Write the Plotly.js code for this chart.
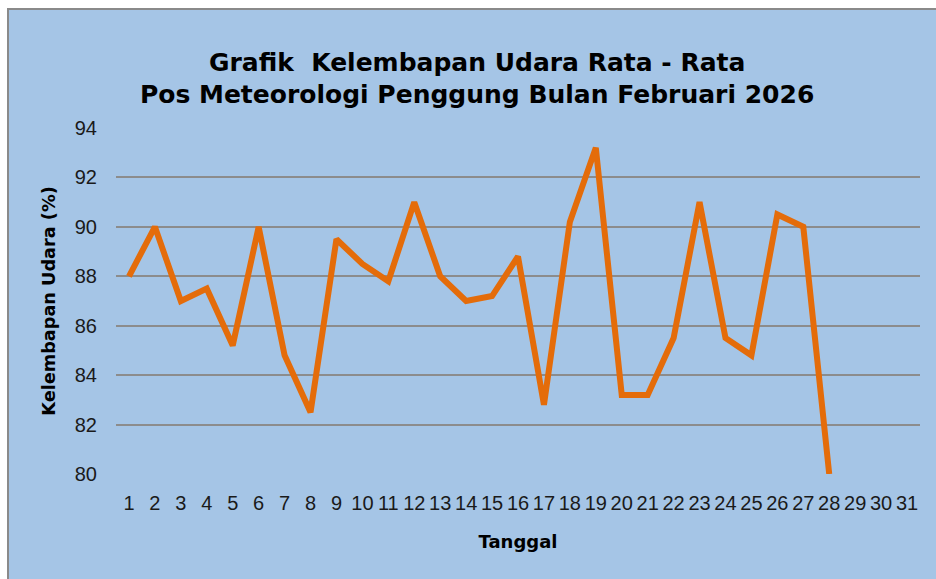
<!DOCTYPE html>
<html>
<head>
<meta charset="utf-8">
<script src="https://cdn.plot.ly/plotly-3.0.1.min.js"></script>
<style>
  html, body { margin:0; padding:0; background:#ffffff; width:936px; height:579px; overflow:hidden; }
  #wrap { position:absolute; left:7px; top:8px; border-left:2px solid #8a8a8a; border-top:2px solid #8a8a8a; }
  #chart { width:927px; height:569px; }
</style>
</head>
<body>
<div id="wrap"><div id="chart"></div></div>
<script>
const days = ["1","2","3","4","5","6","7","8","9","10","11","12","13","14","15","16","17","18","19","20","21","22","23","24","25","26","27","28","29","30","31"];
const humidity = [88.0, 90.0, 87.0, 87.5, 85.2, 90.0, 84.8, 82.5, 89.5, 88.5, 87.8, 91.0, 88.0, 87.0, 87.2, 88.8, 82.8, 90.2, 93.2, 83.2, 83.2, 85.5, 91.0, 85.5, 84.8, 90.5, 90.0, 80.0, null, null, null];
const yTicks = [80, 82, 84, 86, 88, 90, 92, 94];
const titleLines = ["Grafik  Kelembapan Udara Rata - Rata", "Pos Meteorologi Penggung Bulan Februari 2026"];

const FONT = "Liberation Sans, Arial, sans-serif";
const BOLD = "DejaVu Sans, Verdana, sans-serif";
const trace = {
  type: "scatter",
  mode: "lines",
  x: days,
  y: humidity,
  line: { color: "#E46C0A", width: 6 },
  connectgaps: false,
  hoverinfo: "x+y"
};

const layout = {
  width: 927, height: 569,
  paper_bgcolor: "#A5C5E6",
  plot_bgcolor: "#A5C5E6",
  margin: { l: 107, r: 16, t: 118, b: 105 },
  showlegend: false,
  font: { family: FONT, color: "#000000" },
  title: {
    text: titleLines.join("<br>"),
    font: { family: BOLD, size: 25, weight: "bold", color: "#000000" },
    xref: "container", x: 0.505, xanchor: "center",
    yref: "container", y: 1 - 60.5/569, yanchor: "middle"
  },
  xaxis: {
    type: "category",
    categoryorder: "array",
    categoryarray: days,
    range: [-0.5, 30.5],
    showgrid: false, zeroline: false, showline: false,
    tickangle: 0,
    tickfont: { family: FONT, size: 20, color: "#1a1a1a" },
    ticklabelstandoff: 15,
    title: { text: "Tanggal", font: { family: BOLD, size: 18, weight: "bold", color: "#000000" }, standoff: 22 },
    automargin: false
  },
  yaxis: {
    range: [80, 94],
    tickvals: yTicks,
    ticktext: yTicks.map(String),
    showgrid: true, gridcolor: "#8C8C8C", gridwidth: 1.5,
    zeroline: false, showline: false,
    tickfont: { family: FONT, size: 20, color: "#1a1a1a" },
    ticklabelstandoff: 18,
    title: { text: "Kelembapan Udara (%)", font: { family: BOLD, size: 17.7, weight: "bold", color: "#000000" }, standoff: 14 },
    automargin: false
  }
};

Plotly.newPlot("chart", [trace], layout, { displayModeBar: false });
</script>
</body>
</html>
